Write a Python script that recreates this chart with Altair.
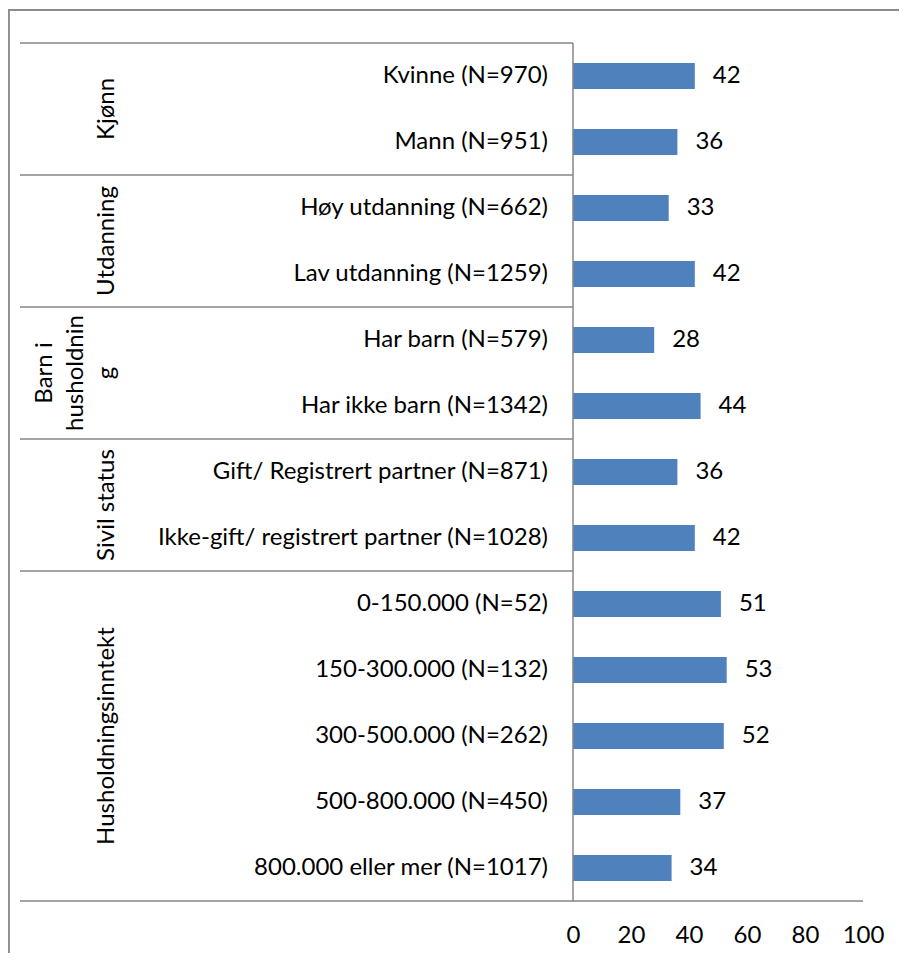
import altair as alt
import pandas as pd
import numpy as np

# ---- data ----
groups = ["Kjønn", "Utdanning", "Barn i husholdning", "Sivil status", "Husholdningsinntekt"]
group_display = ["Kjønn", "Utdanning", "Barn i\nhusholdnin\ng", "Sivil status", "Husholdningsinntekt"]
group_sizes = [2, 2, 2, 2, 5]
categories = [
    "Kvinne (N=970)",
    "Mann (N=951)",
    "Høy utdanning (N=662)",
    "Lav utdanning (N=1259)",
    "Har barn (N=579)",
    "Har ikke barn (N=1342)",
    "Gift/ Registrert partner (N=871)",
    "Ikke-gift/ registrert partner (N=1028)",
    "0-150.000 (N=52)",
    "150-300.000 (N=132)",
    "300-500.000 (N=262)",
    "500-800.000 (N=450)",
    "800.000 eller mer (N=1017)",
]
values = [42, 36, 33, 42, 28, 44, 36, 42, 51, 53, 52, 37, 34]
x_ticks = [0, 20, 40, 60, 80, 100]

# ---- layout (pixels) ----
FONT = "Lato"
FS = 24
W = 891
H = 893
PAD_BOTTOM = 52
ZERO_PX = 565.0
PX_PER_UNIT = 2.9
TOP_PX = 35.0
ROW_PX = 66.0
LINE_H = 31
GROUP_LABEL_PX = 111.0   # anchor (plot px) of the last line of a group label
LINE_COLOR = "#868686"
BAR_COLOR = "#4F81BD"

x_domain = [-ZERO_PX / PX_PER_UNIT, (W - ZERO_PX) / PX_PER_UNIT]
y_domain = [-TOP_PX / ROW_PX, (H - TOP_PX) / ROW_PX]
xs = alt.Scale(domain=x_domain, nice=False, zero=False)
ys = alt.Scale(domain=y_domain, reverse=True, nice=False, zero=False)

x_axis = alt.Axis(
    values=x_ticks,
    domain=False,
    ticks=False,
    grid=False,
    title=None,
    labelFont=FONT,
    labelFontSize=FS,
    labelColor="black",
    labelPadding=22,
)


def px_to_x(px):
    return (px - ZERO_PX) / PX_PER_UNIT


n = len(categories)
half = 13.0 / ROW_PX

bars_df = pd.DataFrame({
    "cat": categories,
    "value": values,
    "r": [i + 0.5 for i in range(n)],
})
bars_df["zero"] = 0.0
bars_df["ya"] = bars_df["r"] - half
bars_df["yb"] = bars_df["r"] + half

starts = [float(sum(group_sizes[:i])) for i in range(len(group_sizes))]
nlines = [len(d.split("\n")) for d in group_display]
groups_df = pd.DataFrame({
    "group": groups,
    "display": group_display,
    "rc": [s + g / 2.0 for s, g in zip(starts, group_sizes)],
    "lx": [px_to_x(GROUP_LABEL_PX - (k - 1) * LINE_H) for k in nlines],
})

left_x = px_to_x(20 - 8)
bounds = [float(sum(group_sizes[:i])) for i in range(len(group_sizes) + 1)]
sep_df = pd.DataFrame({
    "r": bounds,
    "xa": [left_x] * len(bounds),
    "xb": [0.0] * (len(bounds) - 1) + [float(x_ticks[-1])],
})
vline_df = pd.DataFrame({"xv": [0.0], "ra": [bounds[0]], "rb": [bounds[-1]]})
border_df = pd.DataFrame({
    "r": [-0.5], "rb": [15.0],
    "xa": [x_domain[0]], "xb": [x_domain[1]],
    "xl": [x_domain[0] + 0.3],
})

base = alt.Chart(bars_df)

bars = base.mark_bar(color=BAR_COLOR).encode(
    x=alt.X("value:Q", scale=xs, axis=x_axis),
    x2="zero:Q",
    y=alt.Y("ya:Q", scale=ys, axis=None),
    y2="yb:Q",
)

value_labels = base.mark_text(
    align="left", baseline="middle", dx=18, font=FONT, fontSize=FS, color="black"
).encode(
    x=alt.X("value:Q", axis=x_axis),
    y=alt.Y("r:Q", axis=None),
    text="value:Q",
)

cat_labels = base.mark_text(
    align="right", baseline="middle", dx=-25, font=FONT, fontSize=FS, color="black"
).encode(
    x=alt.X("zero:Q", axis=x_axis),
    y=alt.Y("r:Q", axis=None),
    text="cat:N",
)

seps = alt.Chart(sep_df).mark_rule(color=LINE_COLOR, strokeWidth=1.5).encode(
    x=alt.X("xa:Q", axis=x_axis),
    x2="xb:Q",
    y=alt.Y("r:Q", axis=None),
)

vline = alt.Chart(vline_df).mark_rule(color=LINE_COLOR, strokeWidth=1.5).encode(
    x=alt.X("xv:Q", axis=x_axis),
    y=alt.Y("ra:Q", axis=None),
    y2="rb:Q",
)

top_border = alt.Chart(border_df).mark_rule(color="#8c8c8c", strokeWidth=2).encode(
    x=alt.X("xa:Q", axis=x_axis),
    x2="xb:Q",
    y=alt.Y("r:Q", axis=None),
)
left_border = alt.Chart(border_df).mark_rule(color="#8c8c8c", strokeWidth=2).encode(
    x=alt.X("xl:Q", axis=x_axis),
    y=alt.Y("r:Q", axis=None),
    y2="rb:Q",
)

group_labels = alt.Chart(groups_df).mark_text(
    angle=270, align="center", baseline="bottom", lineBreak="\n", lineHeight=LINE_H,
    font=FONT, fontSize=FS, color="black"
).encode(
    x=alt.X("lx:Q", axis=x_axis),
    y=alt.Y("rc:Q", axis=None),
    text="display:N",
)

chart = alt.layer(
    bars, value_labels, cat_labels, seps, vline, top_border, left_border, group_labels
).properties(
    width=W,
    height=H,
    autosize=alt.AutoSizeParams(type="none"),
    padding={"left": 0, "top": 0, "right": 0, "bottom": PAD_BOTTOM},
).configure_view(
    stroke=None
)

chart.save("out.html", embed_options={"renderer": "svg", "actions": False})
